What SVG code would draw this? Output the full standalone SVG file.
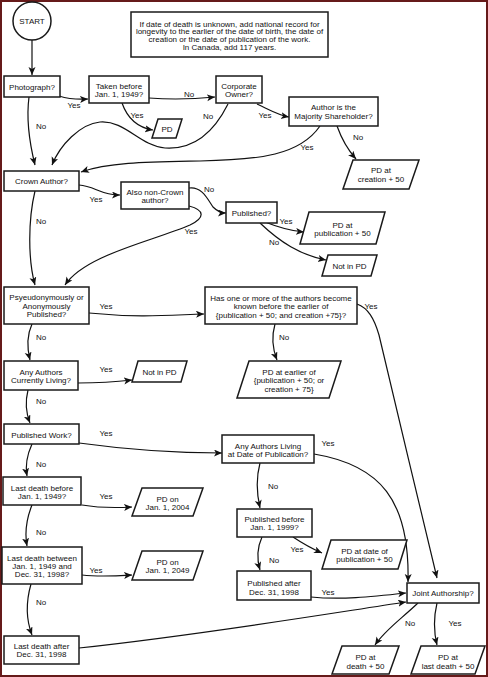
<svg xmlns="http://www.w3.org/2000/svg" width="488" height="677" viewBox="0 0 488 677">
<style>
text{font-family:"Liberation Sans",Arial,sans-serif;font-size:8px;fill:#111;text-anchor:middle}
.box{fill:#fff;stroke:#1a1a1a;stroke-width:1.5}
.edge{fill:none;stroke:#111;stroke-width:1.2;marker-end:url(#arr)}
</style>
<defs>
<marker id="arr" markerUnits="userSpaceOnUse" markerWidth="9" markerHeight="8" refX="8" refY="3.5" orient="auto">
<path d="M0,0 L8,3.5 L0,7 L2,3.5 z" fill="#111"/>
</marker>
</defs>
<rect x="0" y="0" width="488" height="677" fill="#fff"/>
<rect x="1" y="1" width="486" height="675" fill="none" stroke="#661a1a" stroke-width="2"/>

<g id="connectors">
<path class="edge" d="M32,40 L32,75"/>
<path class="edge" d="M59,96 Q72,100 88,99"/>
<path class="edge" d="M149,98 C175,100 195,99 215,97"/>
<path class="edge" d="M122,103 C128,120 140,128 153,130"/>
<path class="edge" d="M228,104 C215,130 195,150 165,148 C140,146 125,120 100,122 C80,124 60,145 52,165"/>
<path class="edge" d="M29,97 C26,120 30,145 35,165"/>
<path class="edge" d="M257,104 C270,110 278,115 289,117"/>
<path class="edge" d="M337,126 C342,140 348,150 356,159"/>
<path class="edge" d="M320,126 C300,155 260,160 200,161 C150,162 110,162 81,172"/>
<path class="edge" d="M79,185 C95,186 100,195 120,195"/>
<path class="edge" d="M189,188 C202,186 208,200 213,207 C218,212 222,213 226,213"/>
<path class="edge" d="M189,206 C205,210 205,218 190,225 C150,242 85,255 65,285"/>
<path class="edge" d="M35,191 C28,220 28,260 35,285"/>
<path class="edge" d="M265,222 C280,228 290,231 304,232"/>
<path class="edge" d="M260,223 C280,242 300,255 326,260"/>
<path class="edge" d="M89,313 C140,318 170,315 204,314"/>
<path class="edge" d="M275,324 C271,338 273,350 277,360"/>
<path class="edge" d="M357,304 C368,308 374,318 379,335 C395,400 420,510 437,578"/>
<path class="edge" d="M32,324 C27,335 27,348 30,360"/>
<path class="edge" d="M78,383 C100,383 115,382 132,380"/>
<path class="edge" d="M28,390 C25,402 26,413 30,423"/>
<path class="edge" d="M79,443 C130,450 180,453 222,453"/>
<path class="edge" d="M32,444 C27,455 25,465 27,476"/>
<path class="edge" d="M82,505 C100,508 115,508 132,507"/>
<path class="edge" d="M32,505 C26,520 25,535 27,546"/>
<path class="edge" d="M82,575 C100,577 115,576 132,575"/>
<path class="edge" d="M31,584 C25,605 27,622 32,635"/>
<path class="edge" d="M79,648 C200,635 320,615 406,602"/>
<path class="edge" d="M260,463 C256,478 257,495 260,508"/>
<path class="edge" d="M314,454 C380,465 410,500 408,582"/>
<path class="edge" d="M293,537 C305,545 315,550 322,553"/>
<path class="edge" d="M262,537 C257,548 257,560 260,570"/>
<path class="edge" d="M311,597 C340,600 370,597 406,593"/>
<path class="edge" d="M418,603 C400,620 385,630 375,645"/>
<path class="edge" d="M437,603 C433,620 434,633 437,645"/>
<text x="74" y="108">Yes</text>
<text x="189" y="97">No</text>
<text x="137" y="118">Yes</text>
<text x="208" y="119">No</text>
<text x="41" y="129">No</text>
<text x="265" y="118">Yes</text>
<text x="358" y="140">No</text>
<text x="307" y="150">Yes</text>
<text x="96" y="202">Yes</text>
<text x="209" y="192">No</text>
<text x="191" y="234">Yes</text>
<text x="41" y="224">No</text>
<text x="286" y="224">Yes</text>
<text x="274" y="245">No</text>
<text x="106" y="309">Yes</text>
<text x="284" y="340">No</text>
<text x="371" y="309">Yes</text>
<text x="41" y="340">No</text>
<text x="106" y="372">Yes</text>
<text x="41" y="404">No</text>
<text x="106" y="436">Yes</text>
<text x="41" y="467">No</text>
<text x="106" y="499">Yes</text>
<text x="41" y="535">No</text>
<text x="96" y="573">Yes</text>
<text x="41" y="605">No</text>
<text x="273" y="489">No</text>
<text x="328" y="446">Yes</text>
<text x="297" y="552">Yes</text>
<text x="274" y="563">No</text>
<text x="328" y="595">Yes</text>
<text x="410" y="626">No</text>
<text x="455" y="626">Yes</text>
</g>

<g id="start"><circle class="box" cx="32" cy="21" r="19"/><text x="32" y="24">START</text></g>
<g id="note"><rect class="box" x="131" y="12" width="197" height="45"/>
<text x="229.5" y="26.5">If date of death is unknown, add national record for</text>
<text x="229.5" y="34.3">longevity to the earlier of the date of birth, the date of</text>
<text x="229.5" y="42.1">creation or the date of publication of the work.</text>
<text x="229.5" y="49.9">In Canada, add 117 years.</text></g>
<g id="photograph"><rect class="box" x="4" y="76" width="56" height="21"/><text x="32" y="89.5">Photograph?</text></g>
<g id="taken"><rect class="box" x="89" y="76" width="60" height="27"/><text x="119" y="88.5">Taken before</text><text x="119" y="97">Jan. 1, 1949?</text></g>
<g id="corporate"><rect class="box" x="216" y="76" width="46" height="27"/><text x="239" y="88.5">Corporate</text><text x="239" y="97">Owner?</text></g>
<g id="majority"><rect class="box" x="289" y="97" width="89" height="29"/><text x="333.5" y="110.3">Author is the</text><text x="333.5" y="118.8">Majority Shareholder?</text></g>
<g id="pd"><polygon class="box" points="158,119 182,119 176,138 152,138"/><text x="167" y="131.5">PD</text></g>
<g id="pd-creation"><polygon class="box" points="353,160 419,160 409,189 343,189"/><text x="381" y="173.3">PD at</text><text x="381" y="181.8">creation + 50</text></g>
<g id="crown"><rect class="box" x="4" y="171" width="75" height="20"/><text x="41.5" y="184">Crown Author?</text></g>
<g id="also-non-crown"><rect class="box" x="121" y="182" width="68" height="27"/><text x="155" y="194.5">Also non-Crown</text><text x="155" y="203">author?</text></g>
<g id="published"><rect class="box" x="226" y="202" width="51" height="21"/><text x="251.5" y="215.5">Published?</text></g>
<g id="pd-publication"><polygon class="box" points="309,212 385,212 376,244 300,244"/><text x="342.5" y="227.8">PD at</text><text x="342.5" y="236.3">publication + 50</text></g>
<g id="not-in-pd-1"><polygon class="box" points="328,255 377,255 371,276 322,276"/><text x="349.5" y="268.5">Not in PD</text></g>
<g id="pseudo"><rect class="box" x="4" y="287" width="85" height="37"/><text x="46.5" y="300.3">Psyeudonymously or</text><text x="46.5" y="308.7">Anonymously</text><text x="46.5" y="317">Published?</text></g>
<g id="has-one"><rect class="box" x="205" y="287" width="152" height="37"/><text x="281" y="300.5">Has one or more of the authors become</text><text x="281" y="309">known before the earlier of</text><text x="281" y="317.5">{publication + 50; and creation +75}?</text></g>
<g id="pd-earlier"><polygon class="box" points="249,361 341,361 329,398 237,398"/><text x="289" y="374.8">PD at earlier of</text><text x="289" y="383.3">{publication + 50; or</text><text x="289" y="391.8">creation + 75}</text></g>
<g id="any-living"><rect class="box" x="4" y="361" width="74" height="29"/><text x="41" y="374.7">Any Authors</text><text x="41" y="383">Currently Living?</text></g>
<g id="not-in-pd-2"><polygon class="box" points="138,361 187,361 181,382 132,382"/><text x="159.5" y="374.7">Not in PD</text></g>
<g id="published-work"><rect class="box" x="4" y="424" width="75" height="20"/><text x="41.5" y="437.5">Published Work?</text></g>
<g id="living-at-pub"><rect class="box" x="222" y="435" width="92" height="28"/><text x="268" y="448.7">Any Authors Living</text><text x="268" y="457">at Date of Publication?</text></g>
<g id="last-before"><rect class="box" x="3" y="477" width="78" height="28"/><text x="42" y="490.5">Last death before</text><text x="42" y="499">Jan. 1, 1949?</text></g>
<g id="pd-2004"><polygon class="box" points="142,488 203,488 193,516 132,516"/><text x="167.5" y="501.5">PD on</text><text x="167.5" y="510">Jan. 1, 2004</text></g>
<g id="last-between"><rect class="box" x="2" y="547" width="80" height="37"/><text x="42" y="560.7">Last death between</text><text x="42" y="569">Jan. 1, 1949 and</text><text x="42" y="577.3">Dec. 31, 1998?</text></g>
<g id="pd-2049"><polygon class="box" points="142,551 203,551 193,580 132,580"/><text x="167.5" y="564.7">PD on</text><text x="167.5" y="573">Jan. 1, 2049</text></g>
<g id="last-after"><rect class="box" x="4" y="636" width="75" height="28"/><text x="41.5" y="649">Last death after</text><text x="41.5" y="657.3">Dec. 31, 1998</text></g>
<g id="pub-before"><rect class="box" x="237" y="509" width="75" height="28"/><text x="274.5" y="522">Published before</text><text x="274.5" y="530.3">Jan. 1, 1999?</text></g>
<g id="pd-date-pub"><polygon class="box" points="331,540 407,540 398,569 322,569"/><text x="364.5" y="554">PD at date of</text><text x="364.5" y="562.3">publication + 50</text></g>
<g id="pub-after"><rect class="box" x="237" y="571" width="74" height="29"/><text x="274" y="586.3">Published after</text><text x="274" y="594.7">Dec. 31, 1998</text></g>
<g id="joint"><rect class="box" x="407" y="583" width="72" height="20"/><text x="443" y="596.3">Joint Authorship?</text></g>
<g id="pd-death"><polygon class="box" points="342,646 399,646 389,674 332,674"/><text x="365.5" y="660.3">PD at</text><text x="365.5" y="668.7">death + 50</text></g>
<g id="pd-last-death"><polygon class="box" points="421,646 485,646 475,674 411,674"/><text x="448" y="660.3">PD at</text><text x="448" y="668.7">last death + 50</text></g>
</svg>
